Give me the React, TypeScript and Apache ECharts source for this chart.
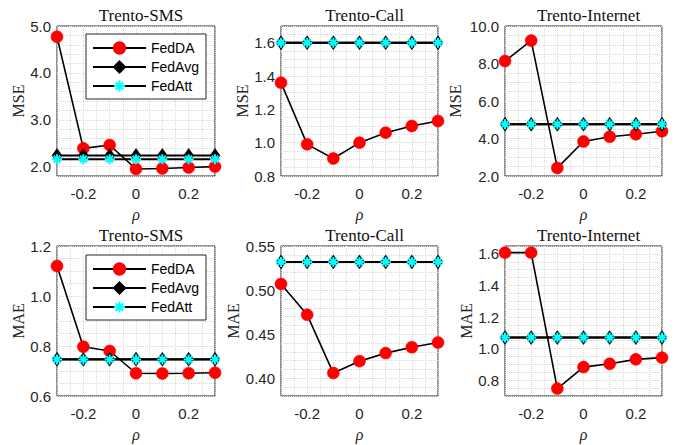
import React, { useEffect, useRef } from "react";
import * as echarts from "echarts";

const rho = [-0.3, -0.2, -0.1, 0, 0.1, 0.2, 0.3];
const seriesNames = ["FedDA", "FedAvg", "FedAtt"];
const panelTitles = ["Trento-SMS", "Trento-Call", "Trento-Internet", "Trento-SMS", "Trento-Call", "Trento-Internet"];
const metricNames = ["MSE", "MSE", "MSE", "MAE", "MAE", "MAE"];

// MSE row
const smsMseFedDA = [4.77, 2.39, 2.46, 1.95, 1.96, 1.98, 2.0];
const smsMseFedAvg = [2.24, 2.24, 2.24, 2.24, 2.24, 2.24, 2.24];
const smsMseFedAtt = [2.16, 2.16, 2.16, 2.16, 2.16, 2.16, 2.16];
const callMseFedDA = [1.36, 0.99, 0.905, 1.0, 1.06, 1.1, 1.13];
const callMseFedAvg = [1.6, 1.6, 1.6, 1.6, 1.6, 1.6, 1.6];
const callMseFedAtt = [1.6, 1.6, 1.6, 1.6, 1.6, 1.6, 1.6];
const netMseFedDA = [8.13, 9.22, 2.43, 3.84, 4.09, 4.23, 4.39];
const netMseFedAvg = [4.76, 4.76, 4.76, 4.76, 4.76, 4.76, 4.76];
const netMseFedAtt = [4.76, 4.76, 4.76, 4.76, 4.76, 4.76, 4.76];
// MAE row
const smsMaeFedDA = [1.12, 0.797, 0.78, 0.691, 0.69, 0.691, 0.693];
const smsMaeFedAvg = [0.747, 0.747, 0.747, 0.747, 0.747, 0.747, 0.747];
const smsMaeFedAtt = [0.746, 0.746, 0.746, 0.746, 0.746, 0.746, 0.746];
const callMaeFedDA = [0.507, 0.472, 0.406, 0.4195, 0.4286, 0.4353, 0.4406];
const callMaeFedAvg = [0.532, 0.532, 0.532, 0.532, 0.532, 0.532, 0.532];
const callMaeFedAtt = [0.532, 0.532, 0.532, 0.532, 0.532, 0.532, 0.532];
const netMaeFedDA = [1.608, 1.608, 0.747, 0.883, 0.904, 0.932, 0.943];
const netMaeFedAvg = [1.07, 1.07, 1.07, 1.07, 1.07, 1.07, 1.07];
const netMaeFedAtt = [1.07, 1.07, 1.07, 1.07, 1.07, 1.07, 1.07];

const panelData = [
  [smsMseFedDA, smsMseFedAvg, smsMseFedAtt],
  [callMseFedDA, callMseFedAvg, callMseFedAtt],
  [netMseFedDA, netMseFedAvg, netMseFedAtt],
  [smsMaeFedDA, smsMaeFedAvg, smsMaeFedAtt],
  [callMaeFedDA, callMaeFedAvg, callMaeFedAtt],
  [netMaeFedDA, netMaeFedAvg, netMaeFedAtt],
];

const yMins = [1.8, 0.8, 2, 0.6, 0.38, 0.7];
const yMaxs = [5, 1.7, 10, 1.2, 0.55, 1.65];
const yIntervals = [0.2, 0.1, 2, 0.2, 0.01, 0.05];
const yLabelSteps = [1, 0.2, 2, 0.2, 0.05, 0.2];
const yDecimals = [1, 1, 1, 1, 2, 1];
const yMinorSplits = [0, 2, 4, 4, 0, 0];
const yNameGaps = [31, 30, 42, 31, 40, 31];

const lefts = [57, 281, 505];
const widths = [158, 157, 157];
const tops = [26, 246];
const H = 150;

const ASTERISK = "path://M5 0L5 10M0 5L10 5M1.6 1.6L8.4 8.4M1.6 8.4L8.4 1.6";
const TICK_FONT = "'Liberation Sans', Arial, sans-serif";
const SERIF = "'Liberation Serif', 'Times New Roman', serif";
const GRIDC = "#d9d9d9";

export default function App() {
  const ref = useRef<HTMLDivElement>(null);
  useEffect(() => {
    document.body.style.margin = "0";
    const chart = echarts.init(ref.current!, null, { renderer: "svg" });
    const grids: any[] = [];
    const xAxes: any[] = [];
    const yAxes: any[] = [];
    const titles: any[] = [];
    const series: any[] = [];
    for (let i = 0; i < 6; i++) {
      const r = Math.floor(i / 3);
      const c = i % 3;
      grids.push({
        left: lefts[c],
        top: tops[r],
        width: widths[c],
        height: H,
        show: true,
        borderColor: "#262626",
        borderWidth: 1,
        backgroundColor: "#fff",
      });
      titles.push({
        text: panelTitles[i],
        left: lefts[c] + widths[c] / 2,
        top: tops[r] - 24,
        textAlign: "center",
        textStyle: { fontFamily: SERIF, fontSize: 17, fontWeight: "normal", color: "#111" },
      });
      xAxes.push({
        type: "value",
        gridIndex: i,
        min: -0.3,
        max: 0.3,
        interval: 0.1,
        name: "ρ",
        nameLocation: "middle",
        nameGap: 30,
        nameTextStyle: { fontFamily: SERIF, fontStyle: "italic", fontSize: 16, color: "#262626" },
        axisLine: { show: false },
        axisTick: { show: false },
        axisLabel: {
          margin: 10,
          fontFamily: TICK_FONT,
          fontSize: 15,
          color: "#262626",
          formatter: (v: number) => {
            const k = Math.round(v * 10);
            if (k % 2 !== 0) return "";
            return k === 0 ? "0" : (k / 10).toFixed(1);
          },
        },
        splitLine: { show: true, lineStyle: { color: GRIDC, type: "dotted", width: 1 } },
        minorTick: { show: false, splitNumber: 2 },
        minorSplitLine: { show: true, lineStyle: { color: GRIDC, type: "dotted", width: 1 } },
      });
      const step = yLabelSteps[i];
      const dec = yDecimals[i];
      yAxes.push({
        type: "value",
        gridIndex: i,
        min: yMins[i],
        max: yMaxs[i],
        interval: yIntervals[i],
        name: metricNames[i],
        nameLocation: "middle",
        nameGap: yNameGaps[i],
        nameTextStyle: { fontFamily: SERIF, fontSize: 16, color: "#262626" },
        axisLine: { show: false },
        axisTick: { show: false },
        axisLabel: {
          margin: 6,
          fontFamily: TICK_FONT,
          fontSize: 15,
          color: "#262626",
          showMinLabel: true,
          showMaxLabel: true,
          formatter: (v: number) => {
            const q = v / step;
            if (Math.abs(q - Math.round(q)) > 1e-6) return "";
            return v.toFixed(dec);
          },
        },
        splitLine: { show: true, lineStyle: { color: GRIDC, type: "dotted", width: 1 } },
        minorTick: { show: false, splitNumber: yMinorSplits[i] || 1 },
        minorSplitLine: {
          show: yMinorSplits[i] > 0,
          lineStyle: { color: GRIDC, type: "dotted", width: 1 },
        },
      });
      const [da, avg, att] = panelData[i];
      series.push({
        name: seriesNames[0],
        type: "line",
        xAxisIndex: i,
        yAxisIndex: i,
        data: rho.map((x, j) => [x, da[j]]),
        symbol: "circle",
        symbolSize: 12,
        itemStyle: { color: "#ff0000", borderColor: "#ff0000", borderWidth: 0.5 },
        lineStyle: { color: "#000", width: 1.6 },
        emphasis: { disabled: true },
        z: 3,
      });
      series.push({
        name: seriesNames[1],
        type: "line",
        xAxisIndex: i,
        yAxisIndex: i,
        data: rho.map((x, j) => [x, avg[j]]),
        symbol: "diamond",
        symbolSize: [10, 14],
        itemStyle: { color: "#000", borderColor: "#000", borderWidth: 0.5 },
        lineStyle: { color: "#000", width: 2 },
        emphasis: { disabled: true },
        z: 4,
      });
      series.push({
        name: seriesNames[2],
        type: "line",
        xAxisIndex: i,
        yAxisIndex: i,
        data: rho.map((x, j) => [x, att[j]]),
        symbol: ASTERISK,
        symbolSize: 10,
        itemStyle: { color: "#00ffff", borderColor: "#00ffff", borderWidth: 2 },
        lineStyle: { color: "#000", width: 2 },
        emphasis: { disabled: true },
        z: 5,
      });
    }
    const legendBase = {
      orient: "vertical",
      left: 86,
      data: seriesNames,
      selectedMode: false,
      backgroundColor: "#fff",
      borderColor: "#262626",
      borderWidth: 1,
      borderRadius: 0,
      padding: [7, 7, 6, 6],
      itemWidth: 53,
      itemHeight: 14,
      itemGap: 5,
      textStyle: { fontFamily: TICK_FONT, fontSize: 14, color: "#000" },
      z: 10,
    };
    chart.setOption({
      animation: false,
      backgroundColor: "#fff",
      title: titles,
      grid: grids,
      xAxis: xAxes,
      yAxis: yAxes,
      legend: [
        { ...legendBase, top: 34 },
        { ...legendBase, top: 255 },
      ],
      series,
    });
    return () => chart.dispose();
  }, []);
  return <div ref={ref} style={{ width: 678, height: 445 }} />;
}
